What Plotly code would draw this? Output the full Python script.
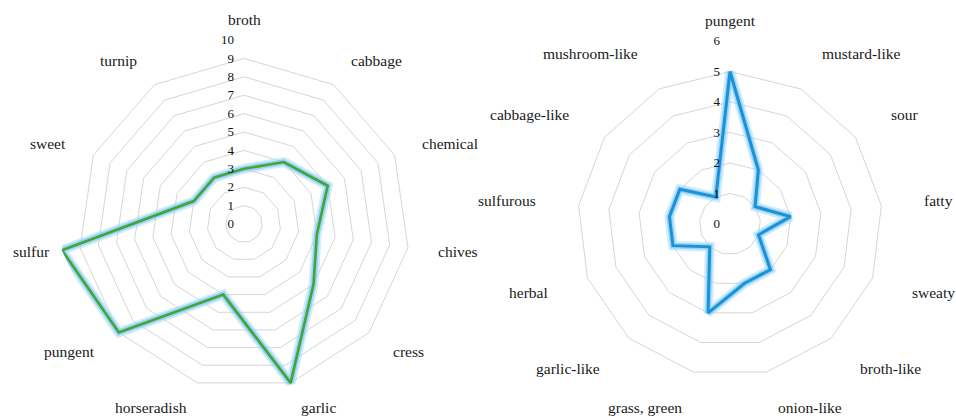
import math
import plotly.graph_objects as go

left_categories = ["broth", "cabbage", "chemical", "chives", "cress", "garlic",
                   "horseradish", "pungent", "sulfur", "sweet", "turnip"]
left_values = [3, 4, 5, 4, 5, 9, 4, 9, 10, 3, 3]
left_ticks = list(range(0, 11))

right_categories = ["pungent", "mustard-like", "sour", "fatty", "sweaty", "broth-like",
                    "onion-like", "grass, green", "garlic-like", "herbal", "sulfurous",
                    "cabbage-like", "mushroom-like"]
right_values = [5, 2, 1, 2, 1, 2, 2, 3, 1, 2, 2, 2, 1]
right_ticks = list(range(0, 7))

FONT = "Liberation Serif"
GRID = "#d6d6d6"
W, H = 956, 418

def closed(a):
    return list(a) + [a[0]]

fig = go.Figure()

def add_series(cats, vals, subplot, color, width):
    th = closed(cats)
    r = closed(vals)
    fig.add_trace(go.Scatterpolar(r=r, theta=th, mode="lines", subplot=subplot,
                                  line=dict(color="rgba(160,215,250,0.45)", width=10),
                                  hoverinfo="skip", showlegend=False))
    fig.add_trace(go.Scatterpolar(r=r, theta=th, mode="lines", subplot=subplot,
                                  line=dict(color="rgba(130,200,245,0.7)", width=6),
                                  hoverinfo="skip", showlegend=False))
    fig.add_trace(go.Scatterpolar(r=r, theta=th, mode="lines", subplot=subplot,
                                  line=dict(color=color, width=width),
                                  showlegend=False))

add_series(left_categories, left_values, "polar", "#42a536", 2.6)
add_series(right_categories, right_values, "polar2", "#1a92d6", 3)

def dom(cx, cy, R):
    return dict(x=[(cx - R) / W, (cx + R) / W], y=[(H - cy - R) / H, (H - cy + R) / H])

def polar_cfg(cx, cy, R, ticks, cats):
    return dict(
        domain=dom(cx, cy, R),
        gridshape="linear",
        bgcolor="white",
        radialaxis=dict(range=[ticks[0], ticks[-1]], tickvals=ticks, ticktext=[str(t) for t in ticks],
                        angle=90, tickangle=90, showline=False, gridcolor=GRID, gridwidth=1,
                        ticks="outside", ticklen=5, tickcolor="rgba(0,0,0,0)",
                        side="counterclockwise",
                        tickfont=dict(family=FONT, size=13, color="#111111")),
        angularaxis=dict(direction="clockwise", rotation=90, showgrid=False,
                         showline=False, ticks="", showticklabels=False,
                         categoryarray=cats, categoryorder="array"),
    )

# category labels placed around each radar (Excel-like placement)
def category_labels(cats, cx, cy, R, gap=10, ymax=407):
    anns = []
    n = len(cats)
    for i, c in enumerate(cats):
        th = 2 * math.pi * i / n
        s, co = math.sin(th), math.cos(th)
        x = cx + (R + gap) * s
        y = cy - (R + gap) * co
        xanchor = "left" if s > 0.05 else ("right" if s < -0.05 else "center")
        yanchor = "bottom" if co > 0.9 else "middle"
        if yanchor == "middle":
            y = min(y, ymax)
        anns.append(dict(text=c, x=x / W, y=1 - y / H, xref="paper", yref="paper",
                         xanchor=xanchor, yanchor=yanchor, showarrow=False,
                         font=dict(family=FONT, size=15.5, color="#1a1a1a")))
    return anns

L = (244, 224, 184)
Rr = (730, 224, 183)

fig.update_layout(
    width=W, height=H,
    margin=dict(l=0, r=0, t=0, b=0),
    paper_bgcolor="white",
    polar=polar_cfg(*L, left_ticks, left_categories),
    polar2=polar_cfg(*Rr, right_ticks, right_categories),
    annotations=category_labels(left_categories, *L) + category_labels(right_categories, *Rr),
    showlegend=False,
)

fig.write_html("out.html", config={"displayModeBar": False},
               post_script="document.body.style.margin='0';")
